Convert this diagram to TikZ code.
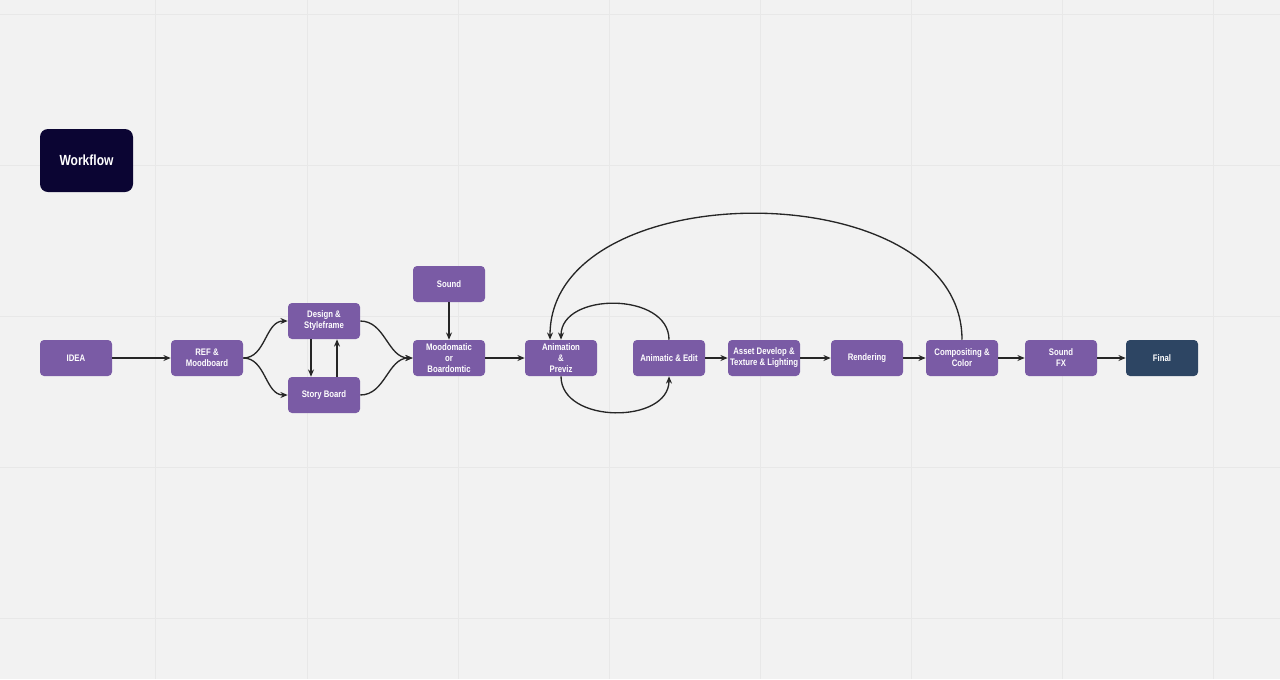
\documentclass[tikz,border=0pt]{standalone}
\usepackage{fontspec}
\setmainfont{Liberation Sans}[FakeStretch=0.82]
\usetikzlibrary{arrows.meta,calc}
\definecolor{bg}{HTML}{F2F2F2}
\definecolor{gridc}{HTML}{E8E8E8}
\definecolor{boxp}{HTML}{7A5BA5}
\definecolor{boxfinal}{HTML}{2D4563}
\definecolor{boxtitle}{HTML}{0B0533}
\tikzset{
  stepbox/.style={draw=none, fill=boxp, rounded corners=3pt, minimum width=54pt, minimum height=27pt,
    inner sep=1pt, align=center, text=white, font=\fontsize{7.1pt}{8.3pt}\selectfont\bfseries},
  finalbox/.style={stepbox, fill=boxfinal},
  titlebox/.style={draw=none, fill=boxtitle, rounded corners=6pt, minimum width=69.75pt, minimum height=47.25pt,
    text=white, font=\fontsize{11pt}{13pt}\selectfont\bfseries},
  conn/.style={draw=black!85, line width=1pt, -{Stealth[length=5.5pt,width=4.5pt]}}
}
\begin{document}
\begin{tikzpicture}[x=0.75pt,y=-0.75pt]
\fill[bg] (0,0) rectangle (1280,679);
\useasboundingbox (0,0) rectangle (1280,679);
\foreach \gx in {155,307,458,609,760,911,1062,1213} \draw[gridc,line width=0.5pt] (\gx,0) -- (\gx,679);
\foreach \gy in {14,165,316,467,618} \draw[gridc,line width=0.5pt] (0,\gy) -- (1280,\gy);

\node[titlebox] (wf) at (86.5,160.5) {Workflow};

\node[stepbox] (idea) at (76,358) {IDEA};
\node[stepbox] (ref) at (207,358) {REF \&\\Moodboard};
\node[stepbox] (design) at (324,321) {Design \&\\Styleframe};
\node[stepbox] (story) at (324,395) {Story Board};
\node[stepbox] (sound) at (449,284) {Sound};
\node[stepbox] (mood) at (449,358) {Moodomatic\\or\\Boardomtic};
\node[stepbox] (anim) at (561,358) {Animation\\\&\\Previz};
\node[stepbox] (edit) at (669,358) {Animatic \& Edit};
\node[stepbox] (asset) at (764,358) {Asset Develop \&\\Texture \& Lighting};
\node[stepbox] (render) at (867,358) {Rendering};
\node[stepbox] (comp) at (962,358) {Compositing \&\\Color};
\node[stepbox] (sfx) at (1061,358) {Sound\\FX};
\node[finalbox] (final) at (1162,358) {Final};

\draw[conn] (idea) -- (ref);
\draw[conn] (ref.east) to[out=0,in=180] (design.west);
\draw[conn] (ref.east) to[out=0,in=180] (story.west);
\draw[conn] ([xshift=-9.75pt]design.south) -- ([xshift=-9.75pt]story.north);
\draw[conn] ([xshift=9.75pt]story.north) -- ([xshift=9.75pt]design.south);
\draw[conn] (design.east) to[out=0,in=180] (mood.west);
\draw[conn] (story.east) to[out=0,in=180] (mood.west);
\draw[conn] (sound) -- (mood);
\draw[conn] (mood) -- (anim);
\draw[conn] (anim.south) .. controls ($(anim.south)+(0,48)$) and ($(edit.south)+(0,48)$) .. (edit.south);
\draw[conn] (edit.north) .. controls ($(edit.north)+(0,-48)$) and ($(anim.north)+(0,-48)$) .. (anim.north);
\coordinate (animtl) at ($(anim.north)+(-11,0)$);
\draw[conn] (comp.north) .. controls ($(comp.north)+(0,-168)$) and ($(animtl)+(0,-168)$) .. (animtl);
\draw[conn] (edit) -- (asset);
\draw[conn] (asset) -- (render);
\draw[conn] (render) -- (comp);
\draw[conn] (comp) -- (sfx);
\draw[conn] (sfx) -- (final);
\end{tikzpicture}
\end{document}
